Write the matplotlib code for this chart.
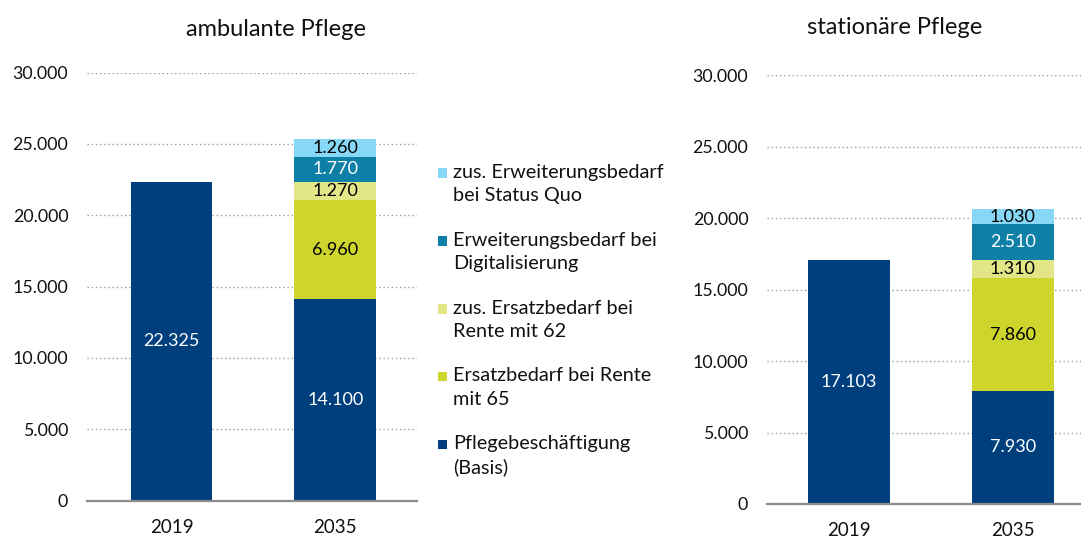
import matplotlib.pyplot as plt
from matplotlib.patches import Rectangle

plt.rcParams['font.family'] = ['Lato', 'DejaVu Sans']

# data
years = ["2019", "2035"]
series_labels = [
    "Pflegebeschäftigung\n(Basis)",
    "Ersatzbedarf bei Rente\nmit 65",
    "zus. Ersatzbedarf bei\nRente mit 62",
    "Erweiterungsbedarf bei\nDigitalisierung",
    "zus. Erweiterungsbedarf\nbei Status Quo",
]
colors = ["#003F7D", "#CED62D", "#E2E686", "#0E7FA6", "#87D8F6"]
text_colors = ["white", "black", "black", "white", "black"]

# values per series: [2019, 2035]; 2019 only has the base value
ambulant = [
    [22325, 14100],
    [0, 6960],
    [0, 1270],
    [0, 1770],
    [0, 1260],
]
stationaer = [
    [17103, 7930],
    [0, 7860],
    [0, 1310],
    [0, 2510],
    [0, 1030],
]
yticks = [0, 5000, 10000, 15000, 20000, 25000, 30000]

W, H = 1081, 539
fig = plt.figure(figsize=(W / 100, H / 100), dpi=100)
txt = "#111111"


def de(v):
    return f"{v:,}".replace(",", ".")


def draw_panel(ax, data, xlim):
    bottom = [0, 0]
    for vals, c, tc in zip(data, colors, text_colors):
        bars = ax.bar(range(len(years)), vals, width=0.5, bottom=bottom, color=c, zorder=2)
        labels = [de(v) if v > 0 else "" for v in vals]
        ax.bar_label(bars, labels=labels, label_type="center", color=tc, fontsize=13)
        bottom = [b + v for b, v in zip(bottom, vals)]
    ax.set_xlim(*xlim)
    ax.set_ylim(0, 30000)
    ax.set_yticks(yticks)
    ax.set_yticklabels([de(t) for t in yticks])
    ax.set_xticks(range(len(years)))
    ax.set_xticklabels(years)
    ax.tick_params(axis="y", length=0, pad=13.5, labelsize=12.8, labelcolor=txt)
    ax.tick_params(axis="x", length=0, pad=13, labelsize=13.5, labelcolor=txt)
    ax.yaxis.grid(True, color="#9a9a9a", linestyle=(0, (1, 2)), linewidth=1)
    ax.set_axisbelow(True)
    for s in ["top", "right", "left"]:
        ax.spines[s].set_visible(False)
    ax.spines["bottom"].set_color("#8c8c8c")
    ax.spines["bottom"].set_linewidth(1.6)
    ax.spines["bottom"].set_zorder(3)


ax1 = fig.add_axes([87 / W, (H - 500.5) / H, 330 / W, 428 / H])
draw_panel(ax1, ambulant, (-0.517, 1.50))
ax2 = fig.add_axes([767 / W, (H - 504) / H, 314 / W, 428.5 / H])
draw_panel(ax2, stationaer, (-0.5, 1.415))

fig.text(276 / W, 1 - 30 / H, "ambulante Pflege", ha="center", va="center", fontsize=17, color=txt)
fig.text(895 / W, 1 - 28 / H, "stationäre Pflege", ha="center", va="center", fontsize=17, color=txt)

# legend, top entry is the last series
for i, k in enumerate(reversed(range(len(series_labels)))):
    base = 178 + i * 67.8
    fig.add_artist(Rectangle((438 / W, 1 - base / H), 9 / W, 9.5 / H,
                             transform=fig.transFigure, color=colors[k], lw=0))
    for j, line in enumerate(series_labels[k].split("\n")):
        fig.text(453 / W, 1 - (base + j * 23.5) / H, line, ha="left", va="baseline",
                 fontsize=14.3, color=txt)

fig.savefig("out.png", dpi=100)
